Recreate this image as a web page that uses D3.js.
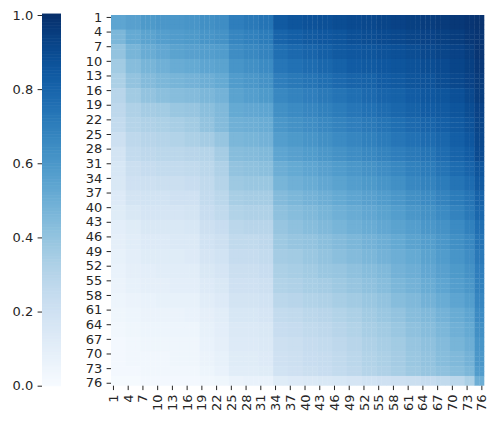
<!DOCTYPE html>
<html>
<head>
<meta charset="utf-8">
<script src="https://cdn.jsdelivr.net/npm/d3@7"></script>
<style>
  body { margin: 0; background: #fff; }
  svg text { font-family: "DejaVu Sans", sans-serif; font-size: 13px; fill: #262626; }
  .tick line { stroke: #262626; stroke-width: 1; }
</style>
</head>
<body>
<div class="chart-container"></div>
<script>
// row / column labels of the 76 x 76 matrix
var cells = d3.range(1, 77);
// tick labels shown on both axes
var tickLabels = [1, 4, 7, 10, 13, 16, 19, 22, 25, 28, 31, 34, 37, 40, 43, 46, 49, 52, 55, 58, 61, 64, 67, 70, 73, 76];
// first row/column of each block that shares a read value
var blockStarts = [1, 4, 7, 10, 13, 16, 19, 22, 25, 28, 31, 34, 37, 40, 43, 46, 49, 52, 55, 58, 61, 64, 67, 70, 73, 75];
// colorbar ticks
var colorTicks = [0, 0.2, 0.4, 0.6, 0.8, 1.0];

// values, one row per row block, one entry per column block
var grid = [
  [.54,.56,.59,.60,.60,.61,.63,.64,.70,.72,.74,.84,.86,.87,.88,.89,.90,.91,.92,.93,.94,.95,.96,.97,.98,.99],
  [.46,.52,.55,.57,.58,.59,.61,.62,.67,.69,.71,.80,.82,.84,.85,.86,.88,.89,.90,.91,.92,.93,.94,.95,.97,.98],
  [.40,.47,.51,.53,.55,.56,.57,.58,.64,.66,.68,.76,.78,.80,.82,.84,.85,.86,.87,.88,.89,.91,.92,.93,.95,.98],
  [.36,.43,.47,.49,.51,.52,.54,.55,.61,.63,.65,.73,.75,.77,.79,.81,.83,.84,.85,.86,.87,.89,.90,.92,.94,.97],
  [.33,.40,.44,.46,.47,.48,.50,.52,.58,.60,.62,.70,.72,.74,.76,.78,.80,.81,.83,.84,.86,.87,.89,.91,.93,.96],
  [.29,.36,.40,.42,.43,.44,.46,.48,.55,.57,.59,.66,.68,.70,.72,.74,.76,.78,.80,.81,.83,.85,.86,.88,.91,.95],
  [.27,.32,.35,.36,.38,.39,.42,.45,.52,.53,.54,.63,.65,.67,.69,.71,.73,.75,.77,.79,.81,.83,.84,.86,.89,.93],
  [.25,.30,.32,.33,.34,.36,.40,.44,.49,.50,.51,.60,.62,.64,.66,.68,.70,.72,.74,.76,.78,.80,.82,.84,.87,.92],
  [.21,.27,.29,.30,.31,.33,.35,.39,.46,.47,.48,.57,.59,.61,.63,.65,.67,.69,.71,.73,.75,.77,.79,.82,.85,.91],
  [.18,.25,.27,.28,.28,.29,.30,.35,.43,.44,.45,.54,.56,.58,.60,.62,.64,.66,.68,.70,.72,.74,.77,.80,.83,.90],
  [.16,.22,.24,.25,.25,.26,.28,.32,.40,.41,.42,.50,.52,.54,.56,.58,.60,.62,.64,.66,.69,.71,.74,.77,.80,.86],
  [.15,.20,.21,.22,.22,.23,.26,.30,.37,.38,.38,.47,.49,.51,.53,.55,.57,.59,.61,.63,.66,.68,.71,.74,.77,.84],
  [.13,.18,.19,.19,.20,.20,.25,.28,.34,.35,.35,.44,.46,.48,.50,.52,.54,.56,.58,.60,.63,.65,.68,.71,.74,.81],
  [.12,.15,.17,.17,.17,.18,.23,.26,.31,.32,.32,.41,.43,.45,.47,.49,.51,.53,.55,.57,.60,.62,.65,.68,.72,.79],
  [.10,.12,.15,.15,.15,.16,.21,.23,.28,.29,.29,.39,.41,.43,.45,.47,.49,.51,.53,.55,.57,.60,.62,.65,.69,.76],
  [.09,.11,.13,.13,.14,.14,.19,.21,.26,.26,.27,.37,.39,.40,.42,.44,.46,.48,.50,.52,.55,.57,.60,.63,.66,.74],
  [.08,.10,.12,.12,.12,.13,.17,.19,.24,.24,.25,.35,.36,.38,.40,.42,.44,.46,.48,.50,.52,.55,.58,.61,.64,.72],
  [.07,.09,.10,.11,.11,.11,.15,.17,.22,.22,.23,.33,.34,.36,.38,.39,.41,.43,.45,.48,.50,.53,.56,.59,.62,.70],
  [.06,.08,.09,.09,.10,.10,.13,.15,.20,.20,.21,.31,.32,.34,.35,.37,.39,.41,.43,.46,.48,.51,.54,.57,.60,.69],
  [.05,.06,.07,.08,.08,.08,.11,.13,.18,.18,.19,.28,.29,.31,.32,.34,.36,.38,.40,.43,.45,.48,.51,.54,.57,.67],
  [.04,.05,.06,.06,.06,.07,.09,.11,.16,.16,.17,.25,.26,.28,.29,.31,.33,.36,.38,.40,.43,.45,.48,.51,.54,.65],
  [.03,.04,.05,.05,.05,.05,.08,.10,.14,.14,.15,.23,.24,.26,.27,.29,.31,.34,.36,.38,.41,.43,.46,.49,.52,.63],
  [.02,.03,.04,.04,.04,.04,.07,.09,.13,.13,.14,.21,.22,.24,.25,.27,.29,.32,.34,.36,.39,.41,.44,.47,.50,.61],
  [.02,.03,.03,.03,.04,.04,.06,.08,.12,.12,.13,.20,.21,.23,.24,.26,.28,.31,.33,.35,.38,.40,.43,.45,.48,.60],
  [.02,.02,.03,.03,.03,.03,.05,.07,.11,.11,.12,.19,.20,.22,.23,.25,.27,.30,.32,.34,.37,.39,.41,.43,.46,.58],
  [.01,.01,.02,.02,.02,.02,.03,.04,.06,.07,.07,.12,.13,.14,.15,.16,.17,.19,.20,.21,.22,.24,.26,.28,.33,.50]
];

function drawHeatmap() {
  var width = 499, height = 424;

  // heatmap and colorbar boxes
  var map = {left: 111, right: 484.3, top: 15, bottom: 385.7};
  var bar = {left: 42, right: 61};

  var svg = d3.select(".chart-container").append("svg")
      .attr("width", width)
      .attr("height", height);

  var x = d3.scaleBand().domain(cells).range([map.left, map.right]).padding(0);
  var y = d3.scaleBand().domain(cells).range([map.top, map.bottom]).padding(0);
  var color = d3.scaleSequential(d3.interpolateBlues).domain([0, 1]);

  function block(i) { return d3.bisectRight(blockStarts, i) - 1; }

  // one record per cell
  var data = [];
  cells.forEach(function(r) {
    cells.forEach(function(c) {
      data.push({row: r, col: c, value: grid[block(r)][block(c)]});
    });
  });

  // small overlap so the seams stay faint
  var overlap = 0.35;
  svg.append("g")
    .selectAll("rect")
      .data(data)
    .enter().append("rect")
      .attr("x", function(d) { return x(d.col); })
      .attr("y", function(d) { return y(d.row); })
      .attr("width", function(d) { return x.bandwidth() + (d.col < 76 ? overlap : 0); })
      .attr("height", function(d) { return y.bandwidth() + (d.row < 76 ? overlap : 0); })
      .attr("fill", function(d) { return color(d.value); });

  // y axis labels
  var yAxis = svg.append("g")
      .attr("transform", "translate(" + map.left + ",0)")
      .call(d3.axisLeft(y).tickValues(tickLabels).tickSize(4.4).tickPadding(4.4));
  yAxis.select(".domain").remove();

  // x axis labels, rotated
  var xAxis = svg.append("g")
      .attr("transform", "translate(0," + map.bottom + ")")
      .call(d3.axisBottom(x).tickValues(tickLabels).tickSize(4.4).tickPadding(4.4));
  xAxis.select(".domain").remove();
  xAxis.selectAll("text")
      .attr("transform", "rotate(-90)")
      .attr("text-anchor", "end")
      .attr("x", -8.8)
      .attr("y", 0)
      .attr("dy", "0.35em");

  // colorbar
  var cb = d3.scaleLinear().domain([0, 1]).range([map.bottom, map.top]);
  var steps = d3.range(0, 256).map(function(i) { return i / 255; });
  var step = (map.bottom - map.top) / 255;
  svg.append("g")
    .selectAll("rect")
      .data(steps)
    .enter().append("rect")
      .attr("x", bar.left)
      .attr("y", function(d) { return cb(d) - step; })
      .attr("width", bar.right - bar.left)
      .attr("height", step + 0.6)
      .attr("fill", function(d) { return color(d); });

  var cbAxis = svg.append("g")
      .attr("transform", "translate(" + bar.left + ",0)")
      .call(d3.axisLeft(cb).tickValues(colorTicks).tickFormat(d3.format(".1f")).tickSize(4.4).tickPadding(4.4));
  cbAxis.select(".domain").remove();
}

drawHeatmap();
</script>
</body>
</html>
